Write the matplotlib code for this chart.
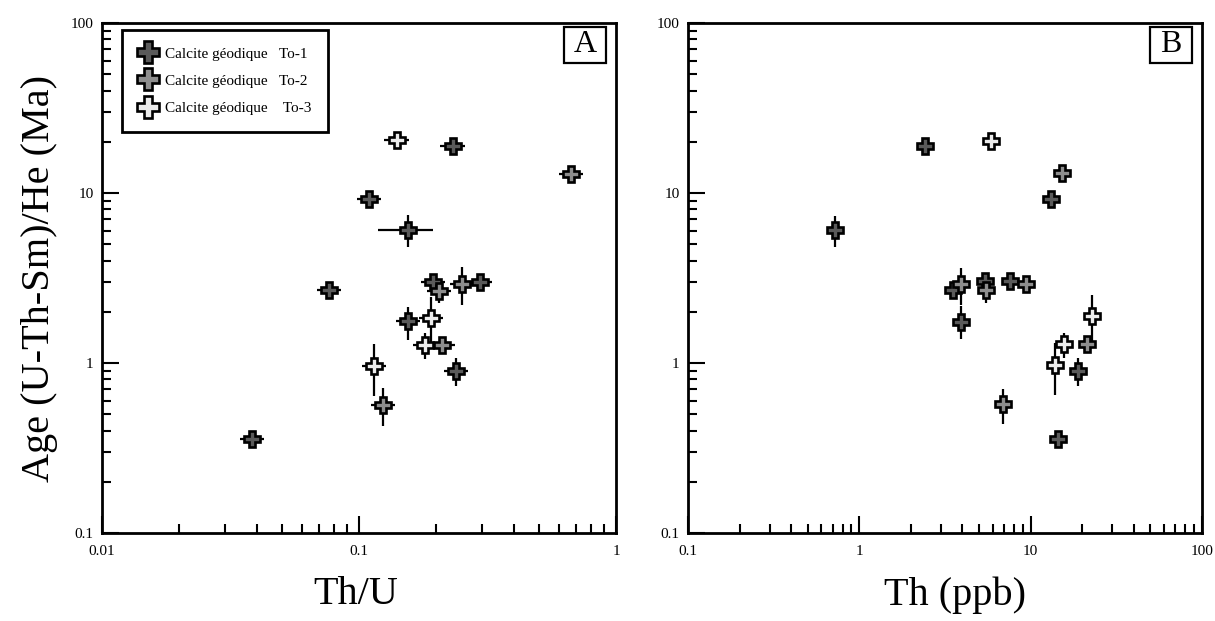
import numpy as np
import matplotlib
matplotlib.use('Agg')
import matplotlib.pyplot as plt
from matplotlib.ticker import LogLocator, FuncFormatter, NullFormatter
from matplotlib.patches import Rectangle

plt.rcParams['font.family'] = ['Liberation Serif', 'DejaVu Serif']

# --- panel A : Th/U vs age ---------------------------------------------
# To-1
a1_x = [0.0383, 0.0764, 0.1094, 0.1552, 0.1552, 0.1943, 0.2312, 0.2382, 0.2955]
a1_y = [0.357, 2.67, 9.26, 6.08, 1.757, 3.0, 19.0, 0.901, 3.0]
a1_xlo = [0.0040, 0.0080, 0.0113, 0.0366, 0.0160, 0.0200, 0.0240, 0.0245, 0.0305]
a1_xhi = [0.0044, 0.0087, 0.0125, 0.0391, 0.0177, 0.0222, 0.0264, 0.0272, 0.0338]
a1_ylo = [0.0, 0.0, 0.0, 1.27, 0.387, 0.0, 0.0, 0.173, 0.0]
a1_yhi = [0.0, 0.0, 0.0, 1.30, 0.373, 0.0, 0.0, 0.169, 0.0]
# To-2
a2_x = [0.1237, 0.205, 0.2113, 0.2507, 0.668]
a2_y = [0.566, 2.66, 1.276, 2.93, 13.0]
a2_xlo = [0.0127, 0.0210, 0.0217, 0.0257, 0.0685]
a2_xhi = [0.0141, 0.0234, 0.0242, 0.0287, 0.0765]
a2_ylo = [0.138, 0.41, 0.0, 0.73, 0.0]
a2_yhi = [0.147, 0.0, 0.0, 0.72, 0.0]
# To-3
a3_x = [0.1144, 0.14, 0.1803, 0.1904]
a3_y = [0.964, 20.4, 1.276, 1.84]
a3_xlo = [0.0118, 0.0144, 0.0185, 0.0195]
a3_xhi = [0.0131, 0.0160, 0.0206, 0.0218]
a3_ylo = [0.322, 0.0, 0.22, 0.53]
a3_yhi = [0.336, 0.0, 0.224, 0.62]

# --- panel B : Th (ppb) vs age ------------------------------------------
b1_x = [0.724, 2.42, 3.52, 3.90, 5.39, 7.55, 13.1, 14.5, 18.8]
b1_y = [6.09, 18.9, 2.69, 1.75, 3.04, 3.04, 9.23, 0.358, 0.903]
b1_ylo = [1.31, 0.0, 0.0, 0.37, 0.0, 0.0, 0.0, 0.0, 0.166]
b1_yhi = [1.24, 0.0, 0.0, 0.40, 0.0, 0.0, 0.0, 0.0, 0.167]
b2_x = [3.94, 5.47, 6.90, 9.45, 15.3, 21.4]
b2_y = [2.93, 2.69, 0.571, 2.91, 13.1, 1.29]
b2_ylo = [0.73, 0.43, 0.135, 0.0, 0.0, 0.0]
b2_yhi = [0.67, 0.0, 0.135, 0.0, 0.0, 0.0]
b3_x = [5.90, 13.9, 15.6, 22.7]
b3_y = [20.2, 0.977, 1.29, 1.88]
b3_ylo = [0.0, 0.326, 0.22, 0.59]
b3_yhi = [0.0, 0.333, 0.21, 0.64]

labels = ['Calcite géodique   To-1', 'Calcite géodique   To-2',
          'Calcite géodique    To-3']
fills = ['#5a5a5a', '#8e8e8e', '#ececec']

ms = 12
mew = 1.9
elw = 1.6

fig = plt.figure(figsize=(12.15, 6.21), dpi=100)
W, H = 1215.0, 621.0
ax_a = fig.add_axes([102 / W, (H - 533) / H, 514 / W, 510 / H])
ax_b = fig.add_axes([688 / W, (H - 533) / H, 514 / W, 510 / H])


def draw(ax, x, y, xlo, xhi, ylo, yhi, fill, label):
    xerr = None if xlo is None else [xlo, xhi]
    ax.errorbar(x, y, xerr=xerr, yerr=[ylo, yhi], fmt='none', ecolor='black',
                elinewidth=elw, capsize=0, zorder=2)
    ax.plot(x, y, linestyle='none', marker='P', markersize=ms,
            markerfacecolor=fill, markeredgecolor='black', markeredgewidth=mew,
            zorder=3, label=label)


draw(ax_a, a1_x, a1_y, a1_xlo, a1_xhi, a1_ylo, a1_yhi, fills[0], labels[0])
draw(ax_a, a2_x, a2_y, a2_xlo, a2_xhi, a2_ylo, a2_yhi, fills[1], labels[1])
draw(ax_a, a3_x, a3_y, a3_xlo, a3_xhi, a3_ylo, a3_yhi, fills[2], labels[2])

draw(ax_b, b1_x, b1_y, None, None, b1_ylo, b1_yhi, fills[0], labels[0])
draw(ax_b, b2_x, b2_y, None, None, b2_ylo, b2_yhi, fills[1], labels[1])
draw(ax_b, b3_x, b3_y, None, None, b3_ylo, b3_yhi, fills[2], labels[2])

fmt = FuncFormatter(lambda v, p: '%g' % v)
for ax, xlim, tag in [(ax_a, (0.01, 1), 'A'), (ax_b, (0.1, 100), 'B')]:
    ax.set_xscale('log')
    ax.set_yscale('log')
    ax.set_xlim(*xlim)
    ax.set_ylim(0.1, 100)
    for axis in (ax.xaxis, ax.yaxis):
        axis.set_major_locator(LogLocator(base=10))
        axis.set_minor_locator(LogLocator(base=10, subs=np.arange(2, 10)))
        axis.set_major_formatter(fmt)
        axis.set_minor_formatter(NullFormatter())
    ax.tick_params(which='both', direction='in', top=False, right=False,
                   width=1.5, colors='black')
    ax.tick_params(which='major', length=12.5)
    ax.tick_params(which='minor', length=6.5)
    ax.tick_params(axis='x', which='major', labelsize=11, pad=8.5)
    ax.tick_params(axis='y', which='major', labelsize=11, pad=6)
    for sp in ax.spines.values():
        sp.set_linewidth(2)
    # panel letter
    ax.add_patch(Rectangle((0.899, 0.9216), 0.0817, 0.0706,
                           transform=ax.transAxes, fill=False,
                           edgecolor='black', linewidth=1.6, zorder=5))
    ax.text(0.9397, 0.957, tag, transform=ax.transAxes, fontsize=23,
            ha='center', va='center', zorder=6)

ax_a.set_xlabel('Th/U', fontsize=29)
ax_a.xaxis.set_label_coords(0.494, -0.085)
ax_b.set_xlabel('Th (ppb)', fontsize=29)
ax_b.xaxis.set_label_coords(0.52, -0.085)
ax_a.set_ylabel('Age (U-Th-Sm)/He (Ma)', fontsize=29)
ax_a.yaxis.set_label_coords(-0.086, 0.5)

leg = ax_a.legend(loc='upper left', bbox_to_anchor=(0.039, 0.986),
                  fontsize=11, markerscale=1.3, frameon=True, fancybox=False,
                  framealpha=1, edgecolor='black', borderpad=1.1,
                  handlelength=1.2, handletextpad=0.5, labelspacing=0.88,
                  borderaxespad=0)
leg.get_frame().set_linewidth(2)

fig.savefig('out.png', dpi=100)
